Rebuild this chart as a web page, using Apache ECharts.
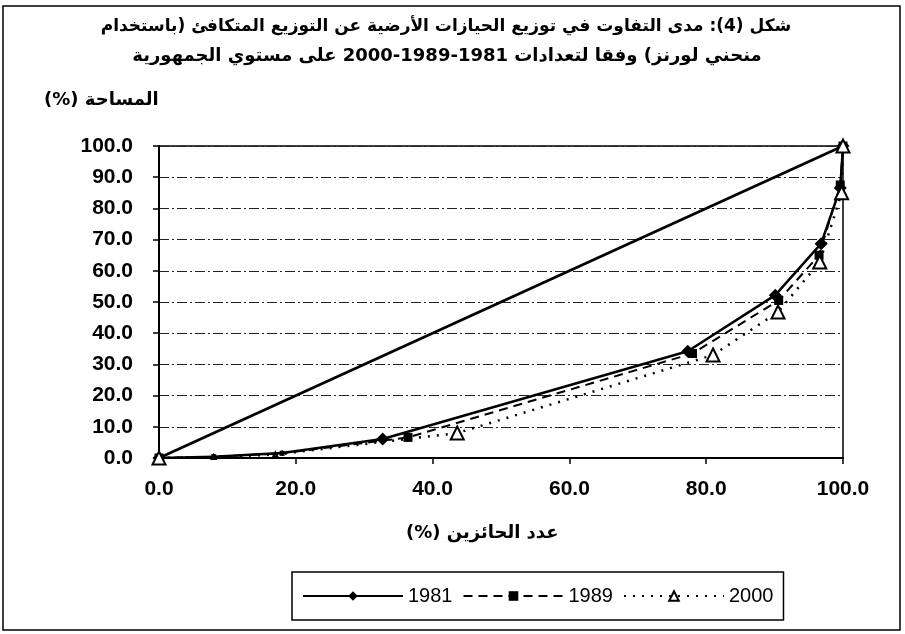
<!DOCTYPE html>
<html>
<head>
<meta charset="utf-8">
<script src="https://cdn.jsdelivr.net/npm/echarts@6/dist/echarts.min.js"></script>
<style>
  html, body { margin: 0; padding: 0; background: #fff; }
  #chart { width: 905px; height: 634px; }
</style>
</head>
<body>
<div id="chart"></div>
<script>
var titleLines = [
    'شكل (4): مدى التفاوت في توزيع الحيازات الأرضية عن التوزيع المتكافئ (باستخدام',
    'منحني لورنز) وفقا لتعدادات 1981-1989-2000 على مستوي الجمهورية'
];
var yName = '(%) المساحة';
var xName = '(%) عدد الحائزين';
var seriesNames = ['1981', '1989', '2000'];

// [holders %, area %]
var data1981 = [[0, 0], [8, 0.4], [18, 1.6], [32.7, 6.1], [77.3, 34.2], [90.1, 52.2], [96.8, 68.7], [99.6, 86.5], [100, 100]];
var data1989 = [[0, 0], [8, 0.4], [18, 1.5], [36.4, 6.6], [78, 33.5], [90.6, 50.5], [96.5, 65], [99.6, 87.5], [100, 100]];
var data2000 = [[0, 0], [8, 0.3], [17, 1.1], [43.6, 8.0], [81, 33], [90.5, 46.8], [96.6, 62.8], [99.8, 85], [100, 100]];
var equality = [[0, 0], [100, 100]];

var myChart = echarts.init(document.getElementById('chart'));

var arFont = '"DejaVu Sans", sans-serif';
var numFont = '"Liberation Sans", Arial, sans-serif';

// the small early points are drawn as blobs, not full markers
function markerSize(big, small) {
    return function (v) { return (v[0] > 0 && v[0] < 30) ? small : big; };
}

var option = {
    backgroundColor: '#fff',
    animation: false,
    graphic: [
        {
            type: 'rect',
            shape: { x: 3, y: 6, width: 897, height: 624 },
            style: { fill: 'none', stroke: '#000', lineWidth: 1.5 }
        },
        {
            type: 'text', x: 446, y: 18,
            style: { text: titleLines[0], font: 'bold 17px ' + arFont, fill: '#000', textAlign: 'center' }
        },
        {
            type: 'text', x: 447, y: 47,
            style: { text: titleLines[1], font: 'bold 18px ' + arFont, fill: '#000', textAlign: 'center' }
        },
        {
            type: 'text', left: 44, top: 91,
            style: { text: yName, font: 'bold 18px ' + arFont, fill: '#000' }
        },
        {
            type: 'text', left: 406, top: 524,
            style: { text: xName, font: 'bold 18px ' + arFont, fill: '#000' }
        }
    ],
    legend: {
        data: seriesNames,
        left: 292,
        top: 572,
        width: 505,
        padding: [14, 10, 14, 10],
        itemGap: 10,
        itemWidth: 100,
        itemHeight: 12,
        borderColor: '#000',
        borderWidth: 1.5,
        textStyle: { fontFamily: numFont, fontSize: 20, color: '#000' }
    },
    grid: {
        left: 159,
        right: 62,
        top: 146,
        bottom: 176,
        show: true,
        borderColor: '#000',
        borderWidth: 1.5
    },
    xAxis: {
        type: 'value',
        min: 0,
        max: 100,
        interval: 20,
        axisLine: { lineStyle: { color: '#000', width: 2 } },
        axisTick: { show: true, inside: false, length: 6, lineStyle: { color: '#000', width: 1.5 } },
        axisLabel: {
            margin: 21,
            fontFamily: numFont, fontWeight: 'bold', fontSize: 21, color: '#000',
            formatter: function (v) { return v.toFixed(1); }
        },
        splitLine: { show: false }
    },
    yAxis: {
        type: 'value',
        min: 0,
        max: 100,
        interval: 10,
        axisLine: { show: true, lineStyle: { color: '#000', width: 2 } },
        axisTick: { show: true, inside: false, length: 6, lineStyle: { color: '#000', width: 1.5 } },
        axisLabel: {
            margin: 26,
            fontFamily: numFont, fontWeight: 'bold', fontSize: 21, color: '#000',
            formatter: function (v) { return v.toFixed(1); }
        },
        splitLine: { show: true, lineStyle: { color: '#222', width: 1, type: [10, 3, 2, 3] } }
    },
    series: [
        {
            name: 'equality',
            type: 'line',
            data: equality,
            symbol: 'none',
            lineStyle: { color: '#000', width: 2.8 },
            z: 3
        },
        {
            name: seriesNames[0],
            type: 'line',
            data: data1981,
            symbol: 'diamond',
            symbolSize: markerSize(13, 6),
            itemStyle: { color: '#000' },
            lineStyle: { color: '#000', width: 2.5, type: 'solid' },
            z: 5
        },
        {
            name: seriesNames[1],
            type: 'line',
            data: data1989,
            symbol: 'rect',
            symbolSize: markerSize(9, 5),
            itemStyle: { color: '#000' },
            lineStyle: { color: '#000', width: 2, type: [9, 6] },
            z: 4
        },
        {
            name: seriesNames[2],
            type: 'line',
            data: data2000,
            symbol: 'triangle',
            symbolSize: markerSize(13, 4),
            itemStyle: { color: '#fff', borderColor: '#000', borderWidth: 2 },
            lineStyle: { color: '#000', width: 2.5, type: [2, 7] },
            z: 6
        }
    ]
};

myChart.setOption(option);
</script>
</body>
</html>
